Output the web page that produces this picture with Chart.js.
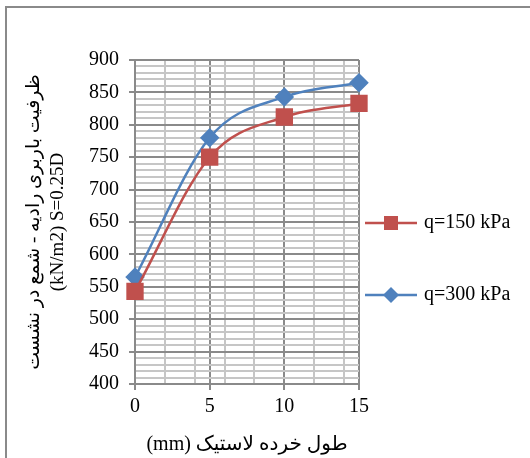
<!DOCTYPE html>
<html>
<head>
<meta charset="utf-8">
<script src="https://cdn.jsdelivr.net/npm/chart.js@4.4.1/dist/chart.umd.min.js"></script>
<style>
  html, body { margin: 0; padding: 0; background: #fff; }
  #wrap { width: 530px; height: 458px; position: relative; }
</style>
</head>
<body>
<div id="wrap"><canvas id="c" width="530" height="458"></canvas></div>
<script>
const lengths = [0, 5, 10, 15];
const q150 = [543, 750, 812, 833];
const q300 = [565, 780, 843, 865];
const seriesLabels = ['q=150 kPa', 'q=300 kPa'];
const yTitle = ['ظرفیت باربری رادیه - شمع در نشست', '(kN/m2) S=0.25D'];
const xTitle = '(mm) طول خرده لاستیک';

const RED = '#C0504D', BLUE = '#4F81BD';
const SERIF = "'Liberation Serif', 'DejaVu Sans', serif";
const MAJOR = '#8a8a8a', MINOR = '#c6c6c6';

function legendIcon(color, style) {
  const cv = document.createElement('canvas');
  cv.width = 52; cv.height = 18;
  const g = cv.getContext('2d');
  g.strokeStyle = color; g.lineWidth = 2.5;
  g.beginPath(); g.moveTo(0, 9); g.lineTo(52, 9); g.stroke();
  g.fillStyle = color;
  if (style === 'rect') { g.fillRect(26 - 7, 9 - 7, 14, 14); }
  else { g.beginPath(); g.moveTo(26, 1); g.lineTo(34, 9); g.lineTo(26, 17); g.lineTo(18, 9); g.closePath(); g.fill(); }
  return cv;
}
const icons = [legendIcon(RED, 'rect'), legendIcon(BLUE, 'rectRot')];

const frame = {
  id: 'frame',
  beforeDraw(chart) {
    const ctx = chart.ctx;
    ctx.save();
    ctx.fillStyle = '#fff';
    ctx.fillRect(0, 0, chart.width, chart.height);
    ctx.strokeStyle = '#8a8a8a';
    ctx.lineWidth = 2;
    ctx.strokeRect(6, 7, 700, 700);
    ctx.restore();
  },
  afterLayout(chart) {
    const lg = chart.legend;
    if (!lg) return;
    lg.left = 368 - lg.options.labels.padding;
    lg.top += 1;
  }
};

new Chart(document.getElementById('c'), {
  type: 'line',
  data: {
    datasets: [
      { label: seriesLabels[0], data: lengths.map((x, i) => ({x, y: q150[i]})),
        borderColor: RED, backgroundColor: RED, borderWidth: 2.5,
        pointStyle: 'rect', pointRadius: 10.5, pointHoverRadius: 10.5,
        pointBorderColor: RED, pointBackgroundColor: RED,
        cubicInterpolationMode: 'monotone', clip: false },
      { label: seriesLabels[1], data: lengths.map((x, i) => ({x, y: q300[i]})),
        borderColor: BLUE, backgroundColor: BLUE, borderWidth: 2.5,
        pointStyle: 'rectRot', pointRadius: 8, pointHoverRadius: 8,
        pointBorderColor: BLUE, pointBackgroundColor: BLUE,
        cubicInterpolationMode: 'monotone', clip: false }
    ]
  },
  options: {
    responsive: false,
    animation: false,
    events: [],
    layout: { padding: { left: 10, right: 0, top: 60, bottom: 1 } },
    plugins: {
      tooltip: { enabled: false },
      legend: {
        position: 'right',
        maxWidth: 171,
        labels: {
          usePointStyle: true,
          pointStyleWidth: 46,
          padding: 52,
          color: '#000',
          font: { family: SERIF, size: 20 },
          generateLabels(chart) {
            return chart.data.datasets.map((ds, i) => ({
              text: ds.label, pointStyle: icons[i], fillStyle: ds.borderColor,
              strokeStyle: ds.borderColor, lineWidth: 0, datasetIndex: i, hidden: false
            }));
          }
        }
      }
    },
    scales: {
      x: {
        type: 'linear', min: 0, max: 15,
        ticks: {
          stepSize: 1, autoSkip: false, maxRotation: 0, padding: 5, color: '#000',
          font: { family: SERIF, size: 20 },
          callback: (v) => (v % 5 === 0 ? String(v) : '')
        },
        grid: {
          lineWidth: 2,
          color: (c) => {
            const v = c.tick ? c.tick.value : 0;
            if (v % 5 === 0) return MAJOR;
            if (v % 2 === 0) return MINOR;
            return 'rgba(0,0,0,0)';
          },
          tickColor: (c) => (c.tick && c.tick.value % 5 === 0 ? MAJOR : 'rgba(0,0,0,0)'),
          tickLength: 6
        },
        border: { color: MAJOR, width: 2 },
        title: {
          display: true, text: xTitle, color: '#000',
          font: { family: SERIF, size: 20 }, padding: { top: 9, bottom: 0 }
        }
      },
      y: {
        min: 400, max: 900,
        afterFit(scale) { scale.width = 125; },
        ticks: {
          stepSize: 10, autoSkip: false, padding: 10, color: '#000',
          font: { family: SERIF, size: 20 },
          callback: (v) => (v % 50 === 0 ? String(v) : '')
        },
        grid: {
          lineWidth: 2,
          color: (c) => (c.tick && c.tick.value % 50 === 0 ? MAJOR : MINOR),
          tickColor: (c) => (c.tick && c.tick.value % 50 === 0 ? MAJOR : 'rgba(0,0,0,0)'),
          tickLength: 6
        },
        border: { color: MAJOR, width: 2 },
        title: {
          display: true, text: yTitle, color: '#000',
          font: { family: SERIF, size: 19, lineHeight: 1.25 }, padding: { top: 12, bottom: 0 }
        }
      }
    }
  },
  plugins: [frame]
});
</script>
</body>
</html>
